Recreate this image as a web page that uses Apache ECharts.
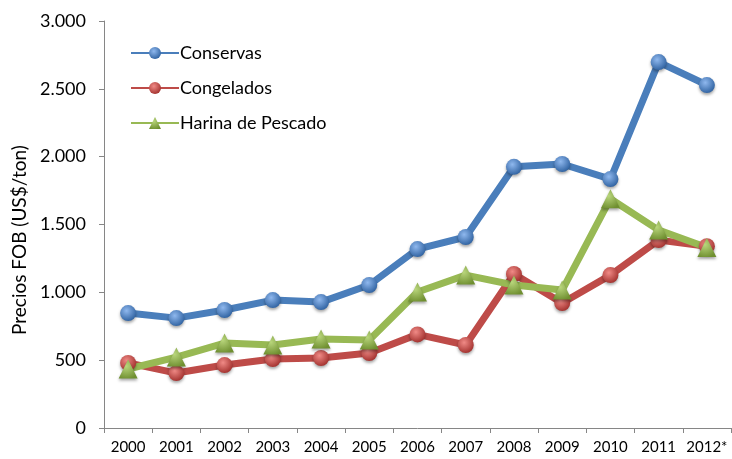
<!DOCTYPE html>
<html><head><meta charset="utf-8">
<script src="https://cdn.jsdelivr.net/npm/echarts@6/dist/echarts.min.js"></script>
<style>html,body{margin:0;padding:0;background:#fff}#c{width:732px;height:459px}</style>
</head><body><div id="c"></div>
<script>
var years = ['2000','2001','2002','2003','2004','2005','2006','2007','2008','2009','2010','2011','2012*'];
var conservas = [847, 810, 870, 943, 928, 1054, 1319, 1408, 1925, 1946, 1835, 2697, 2528];
var congelados = [480, 405, 464, 508, 516, 553, 690, 612, 1135, 921, 1127, 1385, 1340];
var harina = [435, 523, 626, 612, 656, 648, 1002, 1127, 1054, 1017, 1690, 1459, 1330];
var yTicks = [0, 500, 1000, 1500, 2000, 2500, 3000];
var yTitle = 'Precios FOB (US$/ton)';

var FONT = 'Lato, "Open Sans", sans-serif';
function sphere(c1, c2){
  return {type:'radial', x:0.4, y:0.35, r:0.7, colorStops:[{offset:0,color:c1},{offset:1,color:c2}]};
}
function mk(name, data, color, light, dark, symbol, size){
  return {
    name:name, type:'line', data:data, symbol:symbol, symbolSize:size,
    lineStyle:{color:color, width:7},
    itemStyle:{color:sphere(light, dark), borderWidth:0, shadowColor:'rgba(0,0,0,0.35)', shadowBlur:3, shadowOffsetY:2},
    emphasis:{disabled:true}, z: 2
  };
}
var chart = echarts.init(document.getElementById('c'));
chart.setOption({
  animation:false,
  grid:{left:104, right:1, top:21, bottom:31},
  graphic:[{
    type:'text', x:20, y:240, rotation:Math.PI/2,
    style:{text:yTitle, fontFamily:FONT, fontSize:19, fill:'#000', align:'center', verticalAlign:'middle'}
  }],
  legend:{
    orient:'vertical', left:125, top:39, itemGap:17, itemWidth:48, itemHeight:15,
    textStyle:{fontFamily:FONT, fontSize:18, color:'#000', padding:[0,0,0,-4]},
    data:['Conservas','Congelados','Harina de Pescado']
  },
  xAxis:{
    type:'category', data:years, boundaryGap:true,
    axisLine:{lineStyle:{color:'#868686', width:1}},
    axisTick:{show:true, alignWithLabel:false, length:5, lineStyle:{color:'#868686'}},
    axisLabel:{fontFamily:FONT, fontSize:15, color:'#000', margin:12, interval:0}
  },
  yAxis:{
    type:'value', min:0, max:3000, interval:500,
    axisLine:{show:true, lineStyle:{color:'#868686', width:1}},
    axisTick:{show:true, length:5, lineStyle:{color:'#868686'}},
    splitLine:{show:false},
    axisLabel:{fontFamily:FONT, fontSize:18, color:'#000', margin:18,
      formatter:function(v){return v===0?'0':String(v).replace(/\B(?=(\d{3})+(?!\d))/g,'.');}}
  },
  series:[
    mk('Conservas', conservas, '#4A7EBB', '#8FB8EE', '#2C5F9E', 'circle', 16),
    mk('Congelados', congelados, '#BE4B48', '#F08A86', '#A02E2B', 'circle', 16),
    mk('Harina de Pescado', harina, '#98B954', '#B9D67C', '#6F8F30', 'triangle', 19)
  ]
});
</script></body></html>
